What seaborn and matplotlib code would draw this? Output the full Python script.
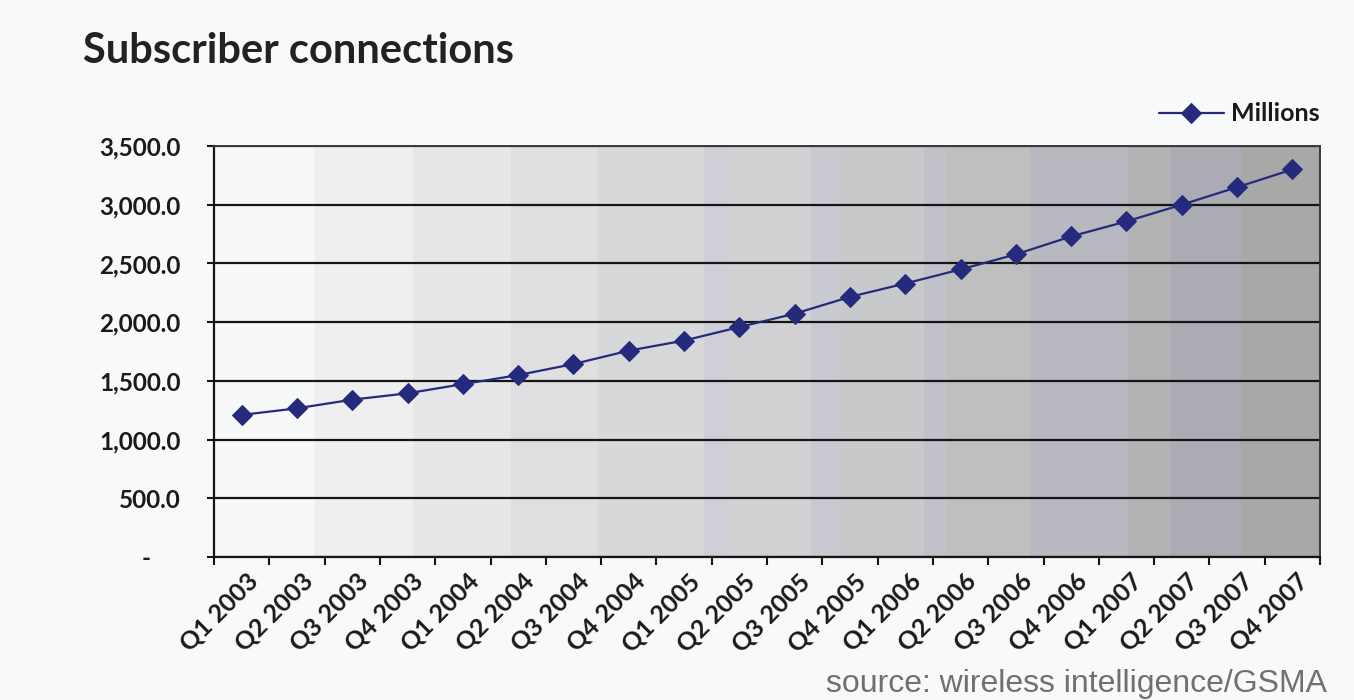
import numpy as np
import pandas as pd
import matplotlib
matplotlib.use("Agg")
import matplotlib.pyplot as plt
from matplotlib.patches import Rectangle
from matplotlib.ticker import FuncFormatter, FixedLocator
from matplotlib.transforms import ScaledTranslation
import seaborn as sns

# ---- data ----
quarters = ["Q1 2003", "Q2 2003", "Q3 2003", "Q4 2003",
            "Q1 2004", "Q2 2004", "Q3 2004", "Q4 2004",
            "Q1 2005", "Q2 2005", "Q3 2005", "Q4 2005",
            "Q1 2006", "Q2 2006", "Q3 2006", "Q4 2006",
            "Q1 2007", "Q2 2007", "Q3 2007", "Q4 2007"]
millions = [1210, 1266, 1340, 1394,
            1472, 1549, 1643, 1757,
            1843, 1958, 2072, 2215,
            2329, 2449, 2577, 2730,
            2858, 3000, 3149, 3300]
y_ticks = [0, 500, 1000, 1500, 2000, 2500, 3000, 3500]
series_name = "Millions"
title = "Subscriber connections"
source = "source: wireless intelligence/GSMA"

df = pd.DataFrame({"quarter": quarters, "value": millions})
df["pos"] = np.arange(len(df))

sns.set_theme(style="white")
plt.rcParams["font.family"] = ["Lato", "DejaVu Sans"]

bg = "#f8f9f9"
fig = plt.figure(figsize=(13.54, 7.0), dpi=100, facecolor=bg)
ax = fig.add_axes([214 / 1354, 1 - 557 / 700, (1320 - 214) / 1354, (557 - 146) / 700])
ax.set_facecolor(bg)

# stepped grey background bands (as in the original)
edges_px = [214, 314, 413, 511, 598, 704, 728, 811, 838, 924, 946, 1030, 1128, 1170, 1241, 1320]
band_cols = ["#f7f8f8", "#efefef", "#e7e7e9", "#dfdfe1", "#d7d8da", "#cfcfd8", "#d1d1d3",
             "#c9c9d2", "#c8c9cb", "#c1c1ca", "#bfbfbf", "#b8b8c0", "#b3b3b5", "#ababb3", "#a8a8a8"]
w = edges_px[-1] - edges_px[0]
for i, c in enumerate(band_cols):
    f0 = (edges_px[i] - edges_px[0]) / w
    f1 = (edges_px[i + 1] - edges_px[0]) / w
    ax.add_patch(Rectangle((f0, 0), f1 - f0, 1, transform=ax.transAxes,
                           facecolor=c, edgecolor="none", zorder=0))

line_col = "#262a7c"
sns.lineplot(data=df, x="pos", y="value", ax=ax, color=line_col, linewidth=1.6,
             marker="D", markersize=10, markeredgecolor=line_col, label=series_name, zorder=5)

ax.set_xlim(-0.5, len(quarters) - 0.5)
ax.set_ylim(0, 3500)

# gridlines
ax.set_yticks(y_ticks)
ax.yaxis.grid(True, color="#151515", linewidth=1.6, zorder=1)
ax.set_axisbelow(True)
ax.yaxis.set_major_formatter(FuncFormatter(lambda v, p: "-     " if v == 0 else f"{v:,.1f}"))
ax.tick_params(axis="y", which="major", length=5, width=1.5, color="#151515", pad=19,
               labelsize=17.5, left=True)
for t in ax.get_yticklabels():
    t.set_fontweight("bold")
    t.set_color("#1a1a1a")

# x ticks: marks at category boundaries, labels at centres
ax.set_xticks(df["pos"])
ax.set_xticklabels(quarters, rotation=45, ha="right", rotation_mode="anchor",
                   fontsize=18, fontweight="bold", color="#1a1a1a")
ax.xaxis.set_minor_locator(FixedLocator(np.arange(-0.5, len(quarters), 1.0)))
ax.tick_params(axis="x", which="major", length=0, pad=9, bottom=True)
ax.tick_params(axis="x", which="minor", length=6, width=1.5, color="#151515", bottom=True)
off = ScaledTranslation(4 / 100, 0, fig.dpi_scale_trans)
for t in ax.get_xticklabels():
    t.set_transform(t.get_transform() + off)
ax.set_xlabel("")
ax.set_ylabel("")

for s in ["left", "bottom"]:
    ax.spines[s].set_color("#151515")
    ax.spines[s].set_linewidth(1.6)
for s in ["top", "right"]:
    ax.spines[s].set_color("#3a3a3a")
    ax.spines[s].set_linewidth(1.4)

leg = ax.legend(loc="lower right", bbox_to_anchor=(1.0, 1.05), frameon=False,
                handlelength=2.6, handletextpad=0.3, borderaxespad=0.0, borderpad=0.0,
                prop={"weight": "bold", "size": 18})
for t in leg.get_texts():
    t.set_color("#1a1a1a")

fig.text(83 / 1354, 1 - 63 / 700, title, fontsize=30, fontweight="bold",
         color="#222222", va="baseline", ha="left")
fig.text(826 / 1354, 1 - 692 / 700, source, fontsize=23, color="#707070",
         family=["Liberation Sans", "DejaVu Sans"], va="baseline", ha="left")

fig.savefig("out.png", dpi=100, facecolor=bg)
